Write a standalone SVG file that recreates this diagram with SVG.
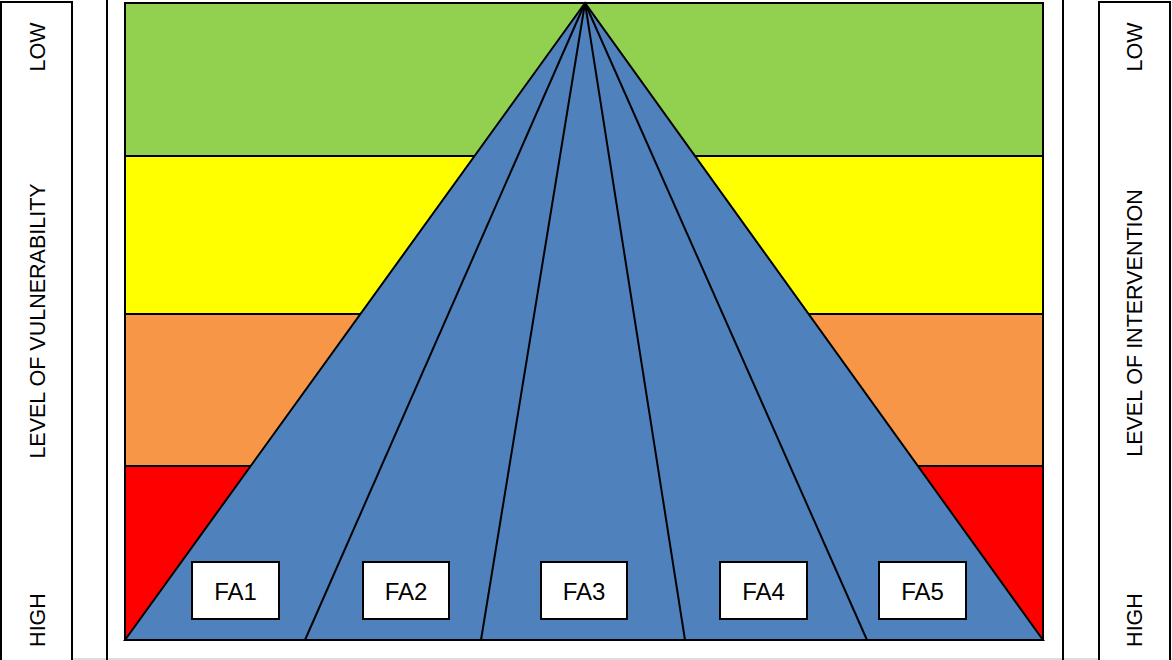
<svg xmlns="http://www.w3.org/2000/svg" width="1172" height="660" viewBox="0 0 1172 660">
<style>
.lbl{font-family:"Liberation Sans",Arial,sans-serif;font-size:21.5px;fill:#000;text-anchor:middle;dominant-baseline:central}
.fa{font-family:"Liberation Sans",Arial,sans-serif;font-size:24px;fill:#000;text-anchor:middle;dominant-baseline:central}
.box{fill:#fff;stroke:#000;stroke-width:2}
.ln{stroke:#000;stroke-width:2;fill:none}
</style>
<rect width="1172" height="660" fill="#fff"/>
<line x1="0" y1="659" x2="1172" y2="659" stroke="#d0d0d0" stroke-width="1.5"/>
<g id="left-axis">
<rect class="box" x="1" y="2" width="71" height="664"/>
<text class="lbl" transform="translate(38,47) rotate(-90)">LOW</text>
<text class="lbl" transform="translate(38,321) rotate(-90)">LEVEL OF VULNERABILITY</text>
<text class="lbl" transform="translate(38,620) rotate(-90)">HIGH</text>
</g>
<line class="ln" x1="107" y1="0" x2="107" y2="660"/>
<line class="ln" x1="1063" y1="0" x2="1063" y2="660"/>
<g id="right-axis">
<rect class="box" x="1099" y="2" width="71" height="664"/>
<text class="lbl" transform="translate(1135,47) rotate(-90)">LOW</text>
<text class="lbl" transform="translate(1135,323) rotate(-90)">LEVEL OF INTERVENTION</text>
<text class="lbl" transform="translate(1135,620) rotate(-90)">HIGH</text>
</g>
<g id="bands">
<rect x="125" y="3" width="918" height="153" fill="#92D050"/>
<rect x="125" y="156" width="918" height="158" fill="#FFFF00"/>
<rect x="125" y="314" width="918" height="152" fill="#F79646"/>
<rect x="125" y="466" width="918" height="174" fill="#FF0000"/>
<line class="ln" x1="125" y1="156" x2="1043" y2="156"/>
<line class="ln" x1="125" y1="314" x2="1043" y2="314"/>
<line class="ln" x1="125" y1="466" x2="1043" y2="466"/>
<rect x="125" y="3" width="918" height="637" fill="none" stroke="#000" stroke-width="2"/>
</g>
<g id="triangle">
<polygon points="585,3 125,640 1043,640" fill="#4F81BD" stroke="#000" stroke-width="2" stroke-linejoin="miter"/>
</g>
<g id="connectors">
<line class="ln" x1="585" y1="3" x2="305" y2="640"/>
<line class="ln" x1="585" y1="3" x2="481" y2="640"/>
<line class="ln" x1="585" y1="3" x2="685" y2="640"/>
<line class="ln" x1="585" y1="3" x2="867" y2="640"/>
</g>
<g id="FA1"><rect class="box" x="192" y="562" width="87" height="57"/><text class="fa" x="235.5" y="591">FA1</text></g>
<g id="FA2"><rect class="box" x="363" y="562" width="86" height="57"/><text class="fa" x="406" y="591">FA2</text></g>
<g id="FA3"><rect class="box" x="541" y="562" width="86" height="57"/><text class="fa" x="584" y="591">FA3</text></g>
<g id="FA4"><rect class="box" x="720" y="562" width="87" height="57"/><text class="fa" x="763.5" y="591">FA4</text></g>
<g id="FA5"><rect class="box" x="879" y="562" width="87" height="57"/><text class="fa" x="922.5" y="591">FA5</text></g>
</svg>
